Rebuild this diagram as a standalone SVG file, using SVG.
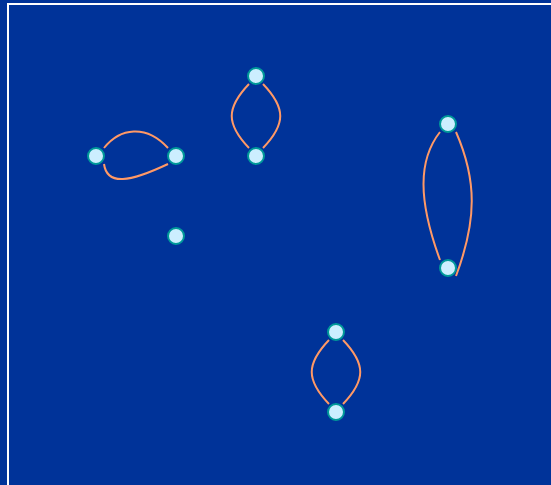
<svg xmlns="http://www.w3.org/2000/svg" width="551" height="485" viewBox="0 0 551 485">
<style>
.node{fill:#cceeff;stroke:#009999;stroke-width:2}
.edge{fill:none;stroke:#ff9966;stroke-width:2}
</style>
<rect x="0" y="0" width="551" height="485" fill="#003399"/>
<rect x="8" y="4" width="620" height="620" fill="none" stroke="#ffffff" stroke-width="2"/>
<g id="connectors">
<path class="edge" d="M104,148 C120,128 146,124 168,148"/>
<path class="edge" d="M104,164 C107,186 130,182 168,164"/>
<path class="edge" d="M249,84 C226,108 226,124 249,148"/>
<path class="edge" d="M263,84 C286,108 286,124 263,148"/>
<path class="edge" d="M440,132 C418,160 418,200 440,260"/>
<path class="edge" d="M456,132 C477,180 477,220 456,276"/>
<path class="edge" d="M329,340 C306,364 306,380 329,404"/>
<path class="edge" d="M343,340 C366,364 366,380 343,404"/>
</g>
<g id="n1"><circle class="node" cx="96" cy="156" r="8"/></g>
<g id="n2"><circle class="node" cx="176" cy="156" r="8"/></g>
<g id="n3"><circle class="node" cx="256" cy="76" r="8"/></g>
<g id="n4"><circle class="node" cx="256" cy="156" r="8"/></g>
<g id="n5"><circle class="node" cx="448" cy="124" r="8"/></g>
<g id="n6"><circle class="node" cx="448" cy="268" r="8"/></g>
<g id="n7"><circle class="node" cx="176" cy="236" r="8"/></g>
<g id="n8"><circle class="node" cx="336" cy="332" r="8"/></g>
<g id="n9"><circle class="node" cx="336" cy="412" r="8"/></g>
</svg>
